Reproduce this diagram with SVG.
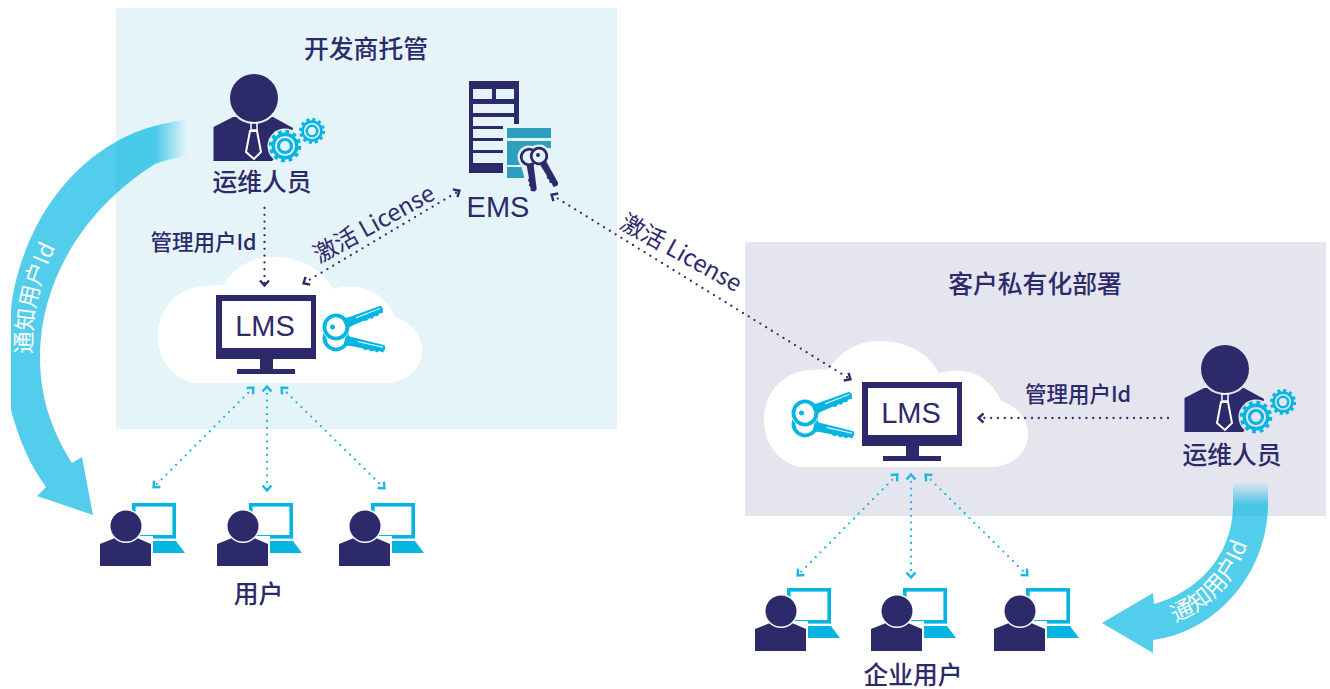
<svg xmlns="http://www.w3.org/2000/svg" width="1330" height="689" viewBox="0 0 1330 689">
<style>
text{font-family:"Noto Sans CJK SC","Noto Sans",sans-serif;fill:#2d2a6b;text-anchor:middle}
.t{font-size:24.8px;font-weight:500}
.s{font-size:21.5px;font-weight:500}
.a{font-size:23.5px;font-weight:400}
.l{font-family:"Liberation Sans",Arial,sans-serif;font-size:29px}
.w{fill:#fff;font-size:22.5px;text-anchor:start}
.navy{fill:#2d2a6b}
.cyan{fill:#04b5e2}
.d{fill:none;stroke-linecap:round;stroke-width:2.3;stroke-dasharray:0 6.8}
.dn{stroke:#2d2a6b;marker-start:url(#hn);marker-end:url(#hn)}
.dn1{stroke:#2d2a6b;marker-end:url(#hn)}
.dc{stroke:#19b7e2;marker-start:url(#hc);marker-end:url(#hc)}
</style>
<defs>
<marker id="hn" markerUnits="userSpaceOnUse" markerWidth="14" markerHeight="14" refX="6" refY="7" orient="auto-start-reverse" viewBox="0 0 14 14"><path d="M1.500 2.500 6.500 7 1.500 11.500" fill="none" stroke="#2d2a6b" stroke-width="2.400"/></marker>
<marker id="hc" markerUnits="userSpaceOnUse" markerWidth="14" markerHeight="14" refX="6" refY="7" orient="auto-start-reverse" viewBox="0 0 14 14"><path d="M1.500 2.500 6.500 7 1.500 11.500" fill="none" stroke="#19b7e2" stroke-width="2.400"/></marker>
<linearGradient id="fadeL" gradientUnits="userSpaceOnUse" x1="155" y1="0" x2="187" y2="0"><stop offset="0" stop-color="#00b5e2" stop-opacity=".68"/><stop offset="1" stop-color="#00b5e2" stop-opacity="0"/></linearGradient>
<linearGradient id="fadeR" gradientUnits="userSpaceOnUse" x1="0" y1="482" x2="0" y2="505"><stop offset="0" stop-color="#00b5e2" stop-opacity="0"/><stop offset="1" stop-color="#00b5e2" stop-opacity=".68"/></linearGradient>
<path id="cloud" fill="#fff" d="M192 383C170 376 158 358 158 336C158 306 180 286 207 286C213 286 218 285 223 285C233 268 252 257 273 257C301 257 324 270 333 289C340 287 349 286 357 287C375 289 389 302 395 317C411 322 422 335 422 350C422 370 405 383 385 383Z"/>
<g id="monitor"><path class="navy" fill-rule="evenodd" d="M216 295H316V359H273V369H295V374H237V369H260V359H216ZM222 301V348H311V301Z"/><rect x="222" y="301" width="89" height="47" fill="#fff"/></g>
<g id="keyC"><path class="cyan" d="M9 -5.500 16 -4.500 49 -4 50.500 -1 49 3.500 45 3 43 5 40 3.600 37 5.300 34 3.800 31 5.300 28 4 16 4.500 9 5.500Z"/><path d="M22 -1.500H48" stroke="#fff" stroke-width="1"/><circle r="11.500" fill="none" stroke="#04b5e2" stroke-width="3.800"/></g>
<g id="keyN"><path class="navy" d="M7 -3.500 33 -3.200 35 -1 34 3 30 2.700 28 4.300 26 3 23 4.300 21 3 7 3.500Z"/><circle r="7.800" fill="#e5f4f9" stroke="#2d2a6b" stroke-width="2.800"/></g>
<g id="keysC"><g transform="translate(336,338) rotate(13)"><use href="#keyC"/></g><circle cx="336" cy="327" r="14" fill="#fff"/><path d="M347 317 386 302 388 312 350 337Z" fill="#fff"/><g transform="translate(336,327) rotate(-21)"><use href="#keyC"/></g><circle cx="332.500" cy="327" r="2.500" class="cyan"/></g>
<g id="gear"><circle r="12.500" fill="none" stroke="#04b5e2" stroke-width="4" stroke-dasharray="3.300 3.240"/><circle r="12" class="cyan"/><circle r="9" fill="currentColor"/><circle r="5.800" fill="none" stroke="#04b5e2" stroke-width="2.800"/></g>
<g id="admin">
<path class="navy" d="M213.500 127 233 117H273L293 128 290 142 272 161H213.500Z"/>
<circle cx="254" cy="98" r="26" fill="currentColor"/><circle cx="254" cy="98" r="24" class="navy"/>
<path class="navy" d="M251 123H257V130H251Z" stroke="#fff" stroke-width="1.500"/>
<path class="navy" d="M250 131H257L261 152 254 159 246 152Z" stroke="#fff" stroke-width="2"/>
<circle cx="285" cy="146" r="17.500" fill="currentColor"/><circle cx="312" cy="131" r="14.500" fill="currentColor"/>
<g transform="translate(285,146) scale(1.12)"><use href="#gear"/></g>
<g transform="translate(312,131) scale(.9)"><use href="#gear"/></g>
</g>
<g id="person">
<path class="cyan" d="M143 541H176L185 553H150Z"/>
<rect x="133.800" y="504.800" width="40.400" height="32" fill="#fff" stroke="#04b5e2" stroke-width="3.600"/>
<path fill="#fff" d="M137 536H153V566H137Z"/>
<path class="navy" d="M100 544 115 538H137L151 544V566H100Z"/>
<circle cx="126" cy="526" r="17" fill="#fff"/><circle cx="126" cy="526" r="15.500" class="navy"/>
</g>
<path id="pathL" fill="none" d="M32 354C31 318 38 282 56 247"/>
<path id="pathR" fill="none" d="M1175 622C1212 608 1238 578 1249 539"/>
</defs>
<rect id="panel-vendor" x="116" y="8" width="501" height="421" fill="#e5f4f9"/>
<rect id="panel-private" x="745" y="242" width="581" height="274" fill="#e4e5ee"/>

<g id="arrow-left">
<path fill="#00b5e2" fill-opacity=".68" d="M155 126C110 137 65 172 37 225C20 258 13 288 11 310V410C19 440 30 465 46 487L37 496 93 515 82 457 72 463C50 428 40 395 40 357C40 280 85 208 155 164Z"/>
<path fill="url(#fadeL)" d="M155 126C165 123 176 121 187 119V156C176 158 165 160 155 164Z"/>
<text class="w"><textPath href="#pathL" startOffset="0">通知用户Id</textPath></text>
</g>
<g id="arrow-right">
<path fill="url(#fadeR)" d="M1233 482H1268V505H1233Z"/>
<path fill="#00b5e2" fill-opacity=".68" d="M1268 505C1267 575 1215 632 1153 640V653L1102 623 1153 593 1154 604C1198 592 1233 555 1233 505Z"/>
<text class="w"><textPath href="#pathR" startOffset="0">通知用户Id</textPath></text>
</g>

<g id="cloud-vendor"><use href="#cloud"/></g>
<g id="cloud-private"><use href="#cloud" x="606" y="84"/></g>

<g id="connectors">
<path class="d dn1" d="M264.500 208V285"/>
<path class="d dn" d="M304 283 459 191"/>
<path class="d dn" d="M552 195 850 379"/>
<path class="d dn1" d="M1168 418H979"/>
<path class="d dc" d="M253 388 154 487"/>
<path class="d dc" d="M267 387V490"/>
<path class="d dc" d="M282 388 384 488"/>
<path class="d dc" d="M897 475 798 575"/>
<path class="d dc" d="M911 475V577"/>
<path class="d dc" d="M926 475 1027 575"/>
</g>

<text class="t" x="366" y="58">开发商托管</text>
<text class="t" x="1035" y="293">客户私有化部署</text>

<g id="admin-vendor" color="#e5f4f9"><use href="#admin"/><text class="t" x="262" y="191">运维人员</text></g>
<g id="admin-private" color="#e4e5ee"><use href="#admin" x="971" y="271"/><text class="t" x="1232" y="464">运维人员</text></g>

<g id="ems">
<rect class="navy" x="469" y="81" width="50" height="92"/>
<g fill="#e5f4f9">
<rect x="473" y="89" width="19" height="10"/><rect x="496" y="89" width="18" height="10"/>
<rect x="473" y="104" width="41" height="9"/><rect x="473" y="117" width="41" height="9"/>
<rect x="473" y="129" width="30" height="9"/><rect x="473" y="141" width="30" height="9"/><rect x="473" y="153" width="30" height="10"/>
<rect x="503" y="124" width="17" height="50"/>
</g>
<g fill="#2e9fbc"><rect x="507" y="128" width="44" height="10"/><path d="M507 141H551V148H530L522 155H507Z"/><rect x="507" y="153" width="16" height="12"/><rect x="507" y="167" width="18" height="11"/></g>
<circle cx="529" cy="157" r="11.500" fill="#e5f4f9"/><circle cx="539" cy="156" r="11.500" fill="#e5f4f9"/>
<path d="M521 165 528 192 536 190 533 165ZM540 165 553 188 559 184 548 160Z" fill="#e5f4f9"/>
<g transform="translate(529,157) rotate(82)"><use href="#keyN"/></g>
<g transform="translate(539,156) rotate(60)"><use href="#keyN"/></g>
<circle cx="538" cy="155" r="2" class="navy"/>
<text class="l" x="498" y="217">EMS</text>
</g>

<g id="lms-vendor"><use href="#monitor"/><text class="l" x="265" y="336">LMS</text><use href="#keysC"/></g>
<g id="lms-private"><use href="#monitor" x="646" y="87"/><text class="l" x="911" y="423">LMS</text><use href="#keysC" x="469" y="86"/></g>

<text class="s" x="203.500" y="250">管理用户Id</text>
<text class="s" x="1078" y="402">管理用户Id</text>
<text class="a" x="374" y="232" transform="rotate(-29 374 224)">激活 License</text>
<text class="a" x="681" y="261" transform="rotate(29 681 253)">激活 License</text>

<g id="user-1"><use href="#person"/></g>
<g id="user-2"><use href="#person" x="117"/></g>
<g id="user-3"><use href="#person" x="239"/></g>
<g id="user-4"><use href="#person" x="655" y="85"/></g>
<g id="user-5"><use href="#person" x="771" y="85"/></g>
<g id="user-6"><use href="#person" x="894" y="85"/></g>
<text class="t" x="258.500" y="603">用户</text>
<text class="t" x="913" y="684">企业用户</text>
</svg>
